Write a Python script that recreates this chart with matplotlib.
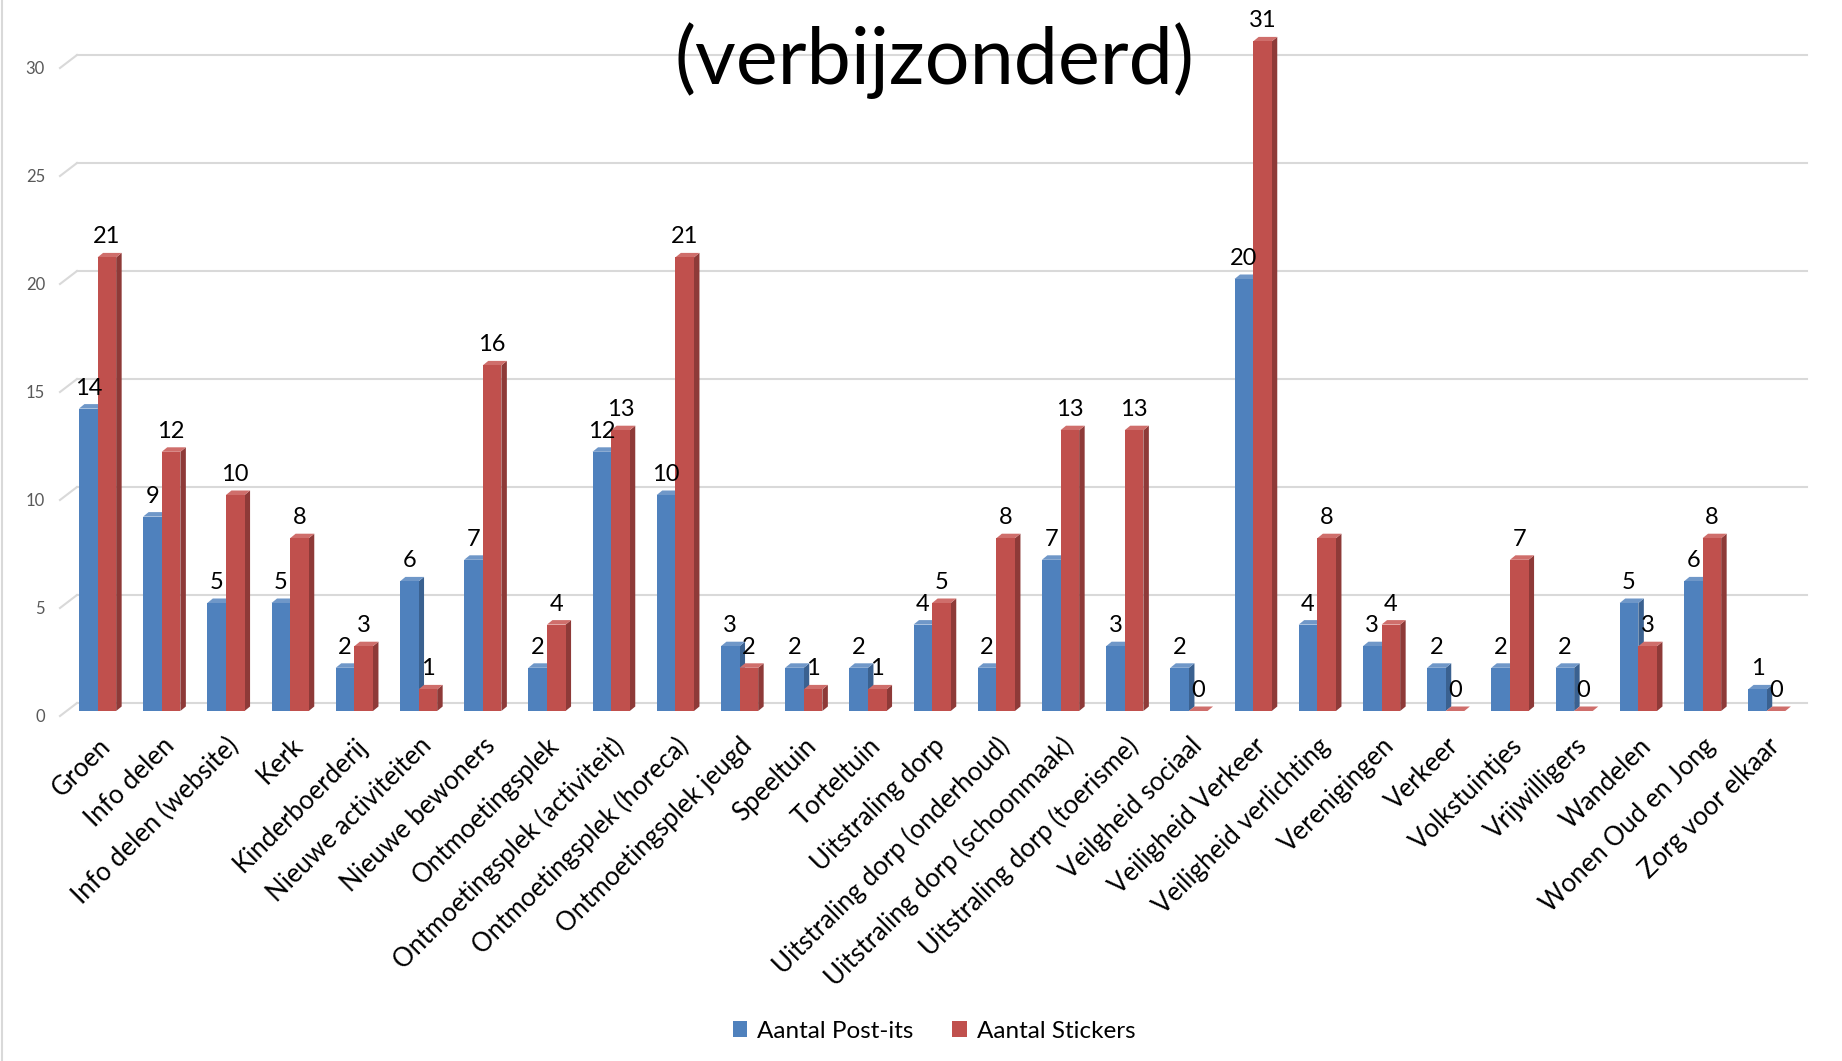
import matplotlib
matplotlib.use("Agg")
import matplotlib.pyplot as plt
from matplotlib.patches import Polygon, Patch
from matplotlib.lines import Line2D
import numpy as np

plt.rcParams['font.family'] = ['Lato', 'DejaVu Sans']

categories = [
    "Groen", "Info delen", "Info delen (website)", "Kerk", "Kinderboerderij",
    "Nieuwe activiteiten", "Nieuwe bewoners", "Ontmoetingsplek",
    "Ontmoetingsplek (activiteit)", "Ontmoetingsplek (horeca)", "Ontmoetingsplek jeugd",
    "Speeltuin", "Torteltuin", "Uitstraling dorp", "Uitstraling dorp (onderhoud)",
    "Uitstraling dorp (schoonmaak)", "Uitstraling dorp (toerisme)", "Veilgheid sociaal",
    "Veiligheid Verkeer", "Veiligheid verlichting", "Verenigingen", "Verkeer",
    "Volkstuintjes", "Vrijwilligers", "Wandelen", "Wonen Oud en Jong", "Zorg voor elkaar",
]
post_its = [14, 9, 5, 5, 2, 6, 7, 2, 12, 10, 3, 2, 2, 4, 2, 7, 3, 2, 20, 4, 3, 2, 2, 2, 5, 6, 1]
stickers = [21, 12, 10, 8, 3, 1, 16, 4, 13, 21, 2, 1, 1, 5, 8, 13, 13, 0, 31, 8, 4, 0, 7, 0, 3, 8, 0]
series_names = ["Aantal Post-its", "Aantal Stickers"]
yticks = [0, 5, 10, 15, 20, 25, 30]

front_cols = ["#4F81BD", "#C0504D"]
side_cols = ["#3A6190", "#8E3A38"]
top_cols = ["#6F97C8", "#CF6E6B"]

W, H = 1842, 1061
fig = plt.figure(figsize=(W / 100, H / 100), dpi=100)

px_unit = 21.6
x0_px, x1_px = 77, 1807
y0_px = 711
ymax = 32.5
ax = fig.add_axes([x0_px / W, (H - y0_px) / H, (x1_px - x0_px) / W, ymax * px_unit / H])
xmin = -0.32
xmax = xmin + (x1_px - x0_px) / 64.2
ax.set_xlim(xmin, xmax)
ax.set_ylim(0, ymax)
ax.axis('off')

# depth offsets in data units
dxd = 5.5 / 64.2
dyd = 4.5 / px_unit
back = 8 / px_unit

grid_c = "#D9D9D9"
for v in yticks:
    ax.plot([xmin, xmax], [v + back, v + back], color=grid_c, lw=1.5, zorder=0, clip_on=False)
    ax.plot([xmin - 17 / 64.2, xmin], [v - 5 / px_unit, v + back], color=grid_c, lw=1.5,
            zorder=0, clip_on=False)
    ax.text(xmin - 32 / 64.2, v - 6 / px_unit, str(v), ha='right', va='center',
            fontsize=12, color="#595959")

bw = 0.29
x = np.arange(len(categories))
for s, vals in enumerate([post_its, stickers]):
    for i, h in enumerate(vals):
        left = x[i] - bw + s * bw
        right = left + bw
        side = Polygon([(right, 0), (right + dxd, dyd), (right + dxd, h + dyd), (right, h)],
                       closed=True, facecolor=side_cols[s], edgecolor='none', zorder=2 + 2 * s)
        top = Polygon([(left, h), (right, h), (right + dxd, h + dyd), (left + dxd, h + dyd)],
                      closed=True, facecolor=top_cols[s], edgecolor='none', zorder=2 + 2 * s)
        ax.add_patch(side)
        ax.add_patch(top)
    ax.bar(x - bw / 2 + s * bw, vals, width=bw, color=front_cols[s], zorder=3 + 2 * s,
           linewidth=0)
    for i, h in enumerate(vals):
        ax.annotate(str(h), (x[i] - bw / 2 + s * bw, h + dyd), xytext=(0, 4),
                    textcoords='offset points', ha='center', va='bottom', fontsize=17,
                    color='black', zorder=10)

for i, lab in enumerate(categories):
    ax.annotate(lab, (x[i], 0), xytext=(0, -16), textcoords='offset points',
                rotation=45, rotation_mode='anchor', ha='right', va='top', fontsize=18.5,
                color='black', annotation_clip=False)

fig.text(934 / W, 1 - 61 / H, "(verbijzonderd)", ha='center', va='center', fontsize=57)

handles = [Patch(facecolor=front_cols[0]), Patch(facecolor=front_cols[1])]
fig.legend(handles, series_names, loc='center', bbox_to_anchor=(934 / W, 1 - 1031 / H),
           ncol=2, frameon=False, fontsize=17.5, handlelength=0.6, handleheight=0.6,
           handletextpad=0.4, columnspacing=1.6)

fig.add_artist(Line2D([2 / W, 2 / W], [0, 1], color="#D9D9D9", lw=1.5))

fig.savefig("out.png", dpi=100, facecolor='white')
